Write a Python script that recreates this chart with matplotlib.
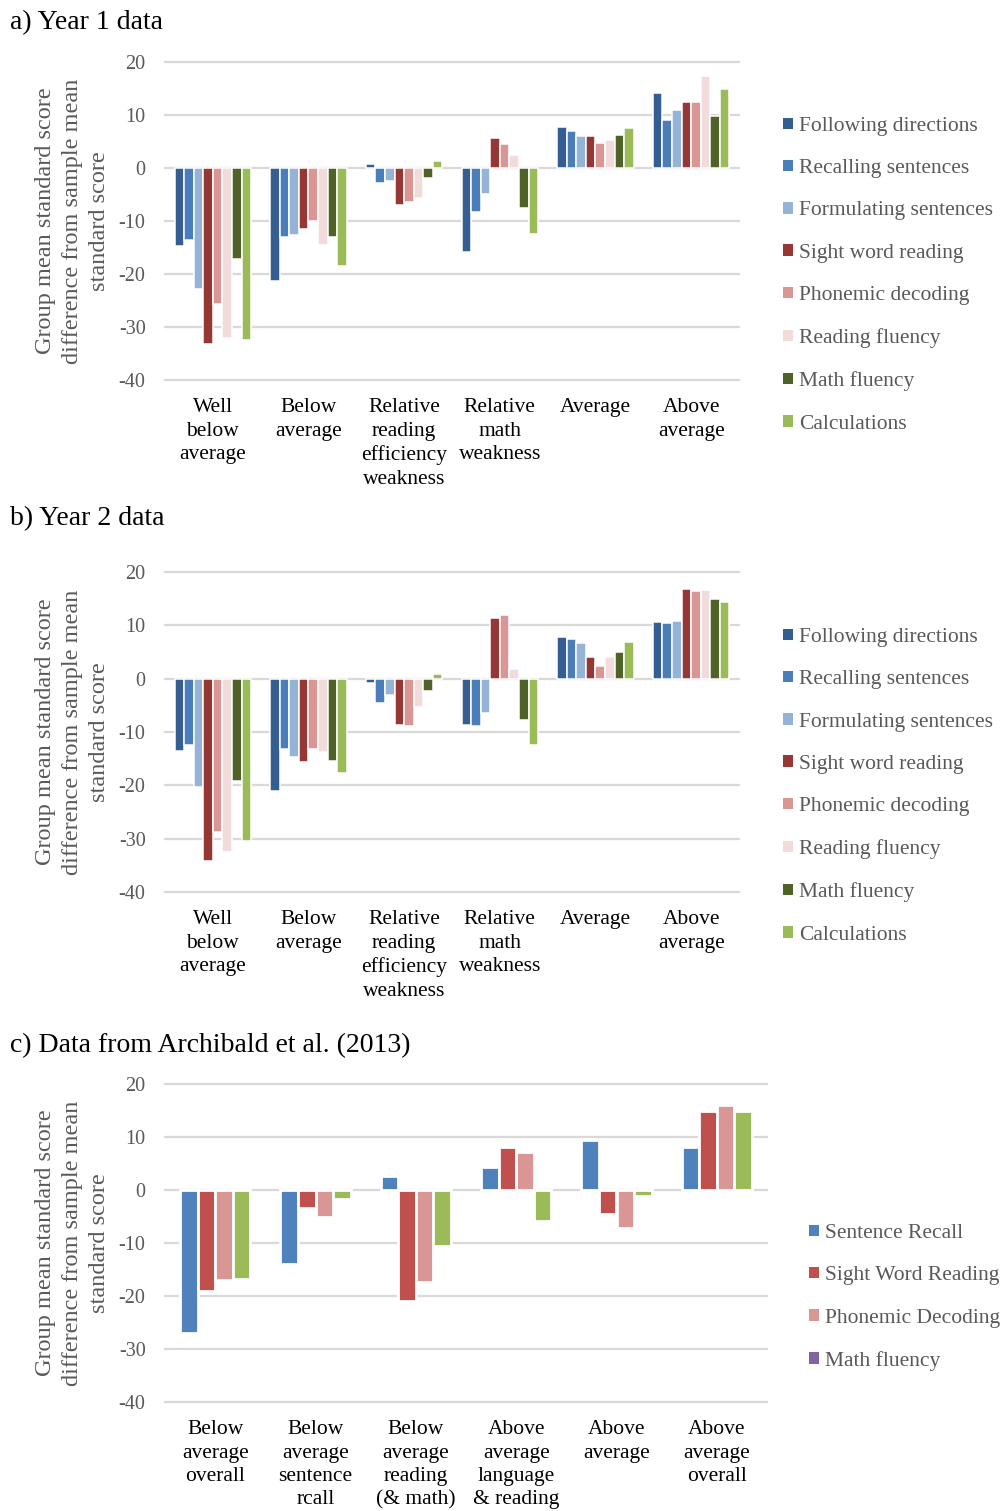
import matplotlib
matplotlib.use("Agg")
import matplotlib.pyplot as plt
from matplotlib.patches import Patch
import numpy as np

# ---------------------------------------------------------------- data
groups_ab = ["Well\nbelow\naverage", "Below\naverage",
             "Relative\nreading\nefficiency\nweakness",
             "Relative\nmath\nweakness", "Average", "Above\naverage"]
measures_ab = ["Following directions", "Recalling sentences",
               "Formulating sentences", "Sight word reading",
               "Phonemic decoding", "Reading fluency", "Math fluency",
               "Calculations"]

# Year 1 group means (difference from sample mean)
y1_following = [-14.8, -21.3, 0.8, -15.8, 7.7, 14.1]
y1_recalling = [-13.5, -13.1, -2.8, -8.3, 6.9, 9.0]
y1_formulating = [-22.8, -12.7, -2.4, -4.9, 6.0, 10.9]
y1_sight = [-33.3, -11.6, -6.9, 5.7, 6.0, 12.4]
y1_phonemic = [-25.7, -10.0, -6.4, 4.6, 4.8, 12.4]
y1_fluency = [-32.1, -14.6, -5.7, 2.5, 5.2, 17.4]
y1_math = [-17.1, -13.1, -1.8, -7.5, 6.2, 9.8]
y1_calc = [-32.4, -18.4, 1.3, -12.5, 7.5, 15.0]

# Year 2 group means
y2_following = [-13.6, -21.0, -0.8, -8.6, 7.8, 10.6]
y2_recalling = [-12.4, -13.1, -4.6, -8.9, 7.4, 10.4]
y2_formulating = [-20.4, -14.6, -3.1, -6.4, 6.6, 10.9]
y2_sight = [-34.2, -15.6, -8.6, 11.4, 4.1, 16.8]
y2_phonemic = [-28.8, -13.1, -8.8, 12.0, 2.3, 16.4]
y2_fluency = [-32.5, -13.8, -5.4, 1.9, 4.1, 16.6]
y2_math = [-19.1, -15.4, -2.3, -7.7, 5.0, 14.9]
y2_calc = [-30.4, -17.7, 0.8, -12.4, 6.8, 14.3]

# Archibald et al. (2013)
groups_c = ["Below\naverage\noverall", "Below\naverage\nsentence\nrcall",
            "Below\naverage\nreading\n(& math)",
            "Above\naverage\nlanguage\n& reading", "Above\naverage",
            "Above\naverage\noverall"]
measures_c = ["Sentence Recall", "Sight Word Reading", "Phonemic Decoding",
              "Math fluency"]
c_recall = [-26.9, -14.0, 2.6, 4.3, 9.5, 8.2]
c_sight = [-19.1, -3.4, -21.0, 8.2, -4.5, 15.0]
c_phonemic = [-17.0, -5.0, -17.4, 7.2, -7.2, 16.0]
c_math = [-16.8, -1.7, -10.5, -5.9, -1.1, 15.0]

yticks = [20, 10, 0, -10, -20, -30, -40]

# ---------------------------------------------------------------- style
colors_ab = ["#345E91", "#4A7EBB", "#95B3D7", "#953735",
             "#D99694", "#F2DCDB", "#4F6228", "#9BBB59"]
colors_c = ["#4F81BD", "#C0504D", "#D99694", "#9BBB59"]
legend_colors_c = ["#4F81BD", "#C0504D", "#D99694", "#8064A2"]

SERIF = ["Liberation Serif", "DejaVu Serif"]
GRAY = "#595959"
GRID = "#D9D9D9"

W, H = 1003, 1511
fig = plt.figure(figsize=(W / 100, H / 100), dpi=100)
fig.patch.set_facecolor("white")


def px_axes(left, top, right, bottom):
    return fig.add_axes([left / W, 1 - bottom / H, (right - left) / W,
                         (bottom - top) / H])


def fx(x):
    return x / W


def fy(y):
    return 1 - y / H


def draw_panel(ax, series, colors, groups, slot, edge_lw):
    n = len(series)
    x = np.arange(len(groups))
    for i, (vals, col) in enumerate(zip(series, colors)):
        offs = (i - (n - 1) / 2) * slot
        ax.bar(x + offs, vals, width=slot, color=col, edgecolor="white",
               linewidth=edge_lw, zorder=3)
    ax.set_xlim(-0.5, len(groups) - 0.5)
    ax.set_ylim(-40, 20)
    ax.set_yticks(yticks)
    ax.set_yticklabels([str(t) for t in yticks], family=SERIF,
                       fontsize=14.5, color=GRAY)
    ax.set_xticks(x)
    ax.set_xticklabels(groups, family=SERIF, fontsize=15.5, color="black",
                       linespacing=1.32)
    ax.tick_params(axis="y", length=0, pad=14)
    ax.tick_params(axis="x", length=0, pad=13)
    for s in ax.spines.values():
        s.set_visible(False)
    ax.set_axisbelow(True)
    for t in yticks:
        ax.axhline(t, color=GRID, linewidth=1.6, zorder=1, clip_on=False)
    ax.set_ylabel("Group mean standard score\ndifference from sample mean\n"
                  "standard score", family=SERIF, fontsize=17.5, color=GRAY,
                  linespacing=1.38, labelpad=6)


def add_legend(labels, colors, x, y_top):
    handles = [Patch(facecolor=c, edgecolor="none", label=l)
               for l, c in zip(labels, colors)]
    leg = fig.legend(handles=handles, loc="upper left",
                     bbox_to_anchor=(fx(x), fy(y_top)),
                     bbox_transform=fig.transFigure, frameon=False,
                     prop={"family": SERIF, "size": 15.5},
                     labelcolor=GRAY, handlelength=0.45, handleheight=0.45,
                     handletextpad=0.3, labelspacing=1.08,
                     borderpad=0, borderaxespad=0)
    return leg


# ---------------------------------------------------------------- panel a
ax_a = px_axes(165, 62, 739, 380)
draw_panel(ax_a, [y1_following, y1_recalling, y1_formulating, y1_sight,
                  y1_phonemic, y1_fluency, y1_math, y1_calc],
           colors_ab, groups_ab, slot=0.1, edge_lw=1.1)
fig.text(fx(10), fy(23), "a) Year 1 data", family=SERIF, fontsize=20,
         va="center", ha="left")
add_legend(measures_ab, colors_ab, 783, 117)

# ---------------------------------------------------------------- panel b
ax_b = px_axes(165, 572, 739, 892)
draw_panel(ax_b, [y2_following, y2_recalling, y2_formulating, y2_sight,
                  y2_phonemic, y2_fluency, y2_math, y2_calc],
           colors_ab, groups_ab, slot=0.1, edge_lw=1.1)
fig.text(fx(10), fy(519), "b) Year 2 data", family=SERIF, fontsize=20,
         va="center", ha="left")
add_legend(measures_ab, colors_ab, 783, 628)

# ---------------------------------------------------------------- panel c
ax_c = px_axes(165, 1084, 767, 1402)
draw_panel(ax_c, [c_recall, c_sight, c_phonemic, c_math],
           colors_c, groups_c, slot=0.175, edge_lw=2.0)
fig.text(fx(10), fy(1046), "c) Data from Archibald et al. (2013)",
         family=SERIF, fontsize=20, va="center", ha="left")
add_legend(measures_c, legend_colors_c, 809, 1224)

fig.savefig("out.png", dpi=100, facecolor="white")
